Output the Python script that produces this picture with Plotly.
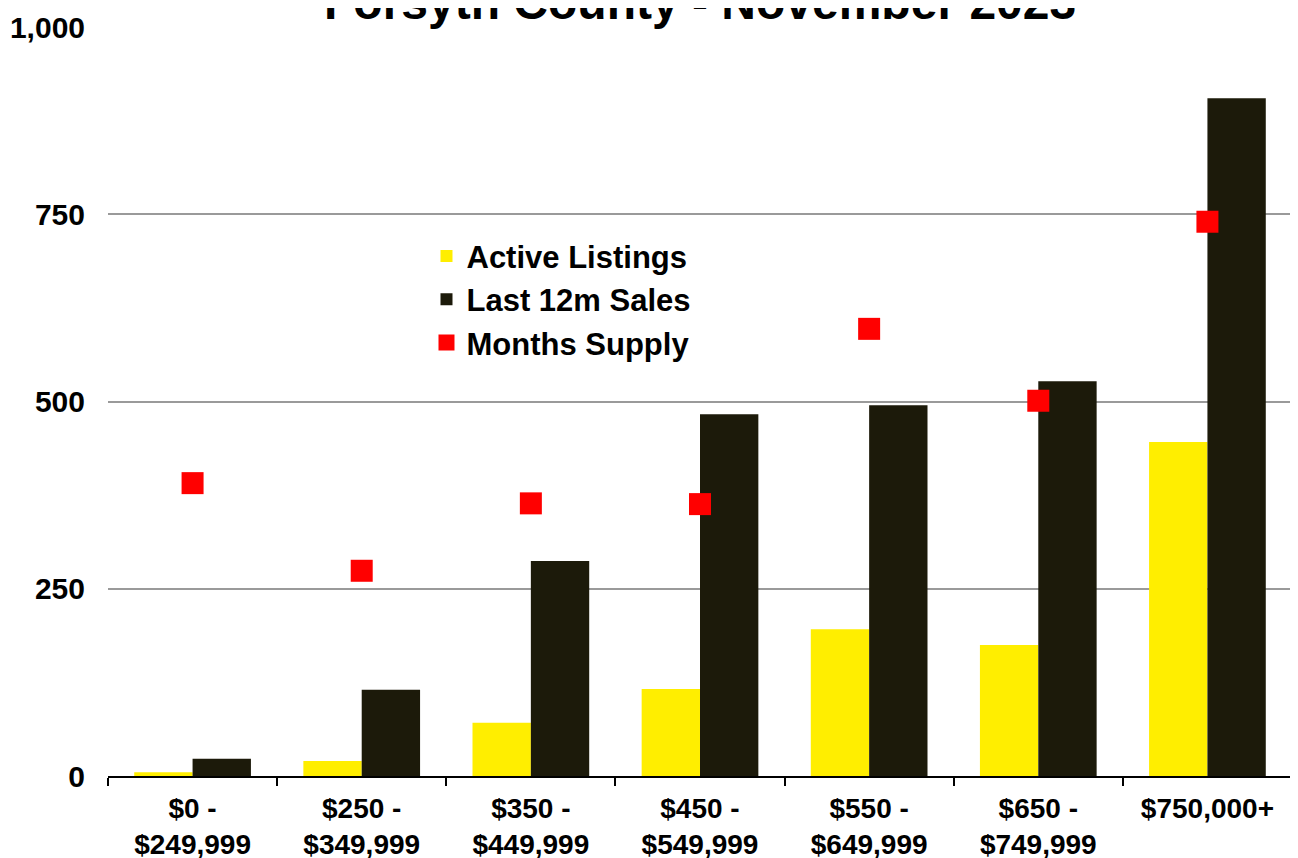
import plotly.graph_objects as go

categories = ["$0 -<br>$249,999", "$250 -<br>$349,999", "$350 -<br>$449,999",
              "$450 -<br>$549,999", "$550 -<br>$649,999", "$650 -<br>$749,999",
              "$750,000+"]
active_listings = [5, 20, 71, 116, 196, 175, 446]
last_12m_sales = [23, 115, 287, 483, 495, 527, 905]
months_supply = [3.91, 2.74, 3.64, 3.63, 5.97, 5.01, 7.40]
y_ticks = [0, 250, 500, 750, 1000]
y_tick_labels = ["0", "250", "500", "750", "1,000"]

FONT = "Liberation Sans, Arial, Helvetica, sans-serif"

fig = go.Figure()
fig.add_trace(go.Bar(x=categories, y=active_listings, name="Active Listings",
                     marker=dict(color="#FFEE00", line=dict(width=0))))
fig.add_trace(go.Bar(x=categories, y=last_12m_sales, name="Last 12m Sales",
                     marker=dict(color="#1C1A0A", line=dict(width=0))))
fig.add_trace(go.Scatter(x=categories, y=months_supply, name="Months Supply",
                         mode="markers", yaxis="y2",
                         marker=dict(symbol="square", size=22, color="#FF0000")))

fig.update_layout(
    width=1298, height=858,
    margin=dict(l=100, r=14, t=19, b=90),
    paper_bgcolor="white", plot_bgcolor="white",
    barmode="group", bargap=0.31, bargroupgap=0,
    font=dict(family=FONT, color="black", size=24),
    showlegend=True,
    legend=dict(x=0.269, y=0.73, xanchor="left", yanchor="top",
                bgcolor="rgba(0,0,0,0)",
                font=dict(family=FONT, size=31, color="black", weight="bold")),
    xaxis=dict(showline=True, linecolor="black", linewidth=2,
               ticks="outside", tickson="boundaries", ticklen=8,
               tickcolor="black", tickwidth=2, automargin=False,
               ticklabelstandoff=6,
               tickfont=dict(family=FONT, size=28, color="black", weight="bold")),
    yaxis=dict(range=[0, 1000], tickvals=y_ticks, ticktext=y_tick_labels,
               showgrid=True, gridcolor="#9a9a9a", gridwidth=2,
               zeroline=False, showline=False, ticks="", ticklabelstandoff=22,
               automargin=False,
               tickfont=dict(family=FONT, size=30, color="black", weight="bold")),
    yaxis2=dict(range=[0, 10], overlaying="y", side="right", visible=False),
)

fig.add_annotation(text="Forsyth County - November 2023", xref="paper", yref="paper",
                   x=0.5, y=1, xanchor="center", yanchor="bottom", yshift=-4,
                   showarrow=False,
                   font=dict(family=FONT, size=48, color="black", weight="bold"))

fig.write_html("out.html")
